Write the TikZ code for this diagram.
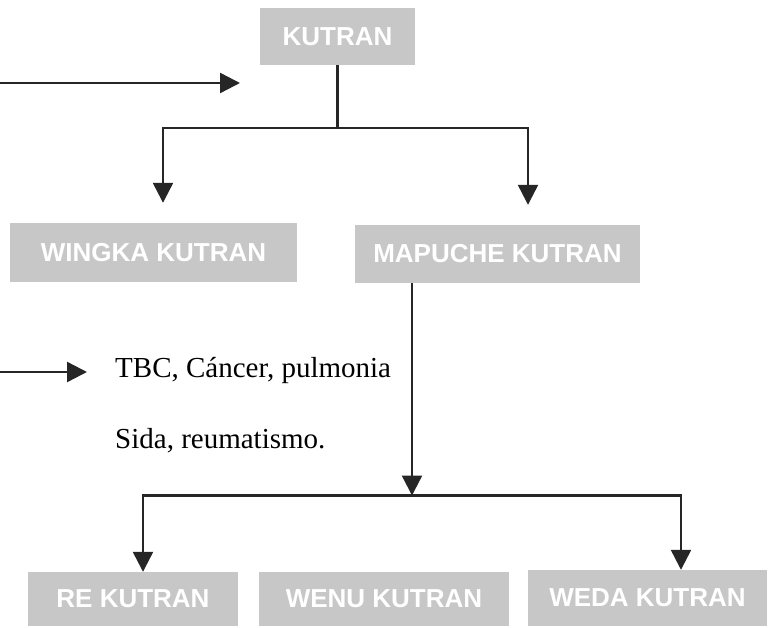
\documentclass[tikz,border=0pt]{standalone}
\usepackage{fontspec}
\setmainfont{Liberation Serif}
\newfontfamily\boxfont{Liberation Sans}
\usetikzlibrary{arrows.meta}
\begin{document}
\begin{tikzpicture}[x=1pt,y=-1pt,>={Triangle[length=20pt,width=20pt]},
	kbox/.style={fill=black!22,text=white,inner sep=0pt,font=\boxfont\bfseries\fontsize{26}{30}\selectfont},
	conn/.style={line width=2.4pt,black!85},
	enf/.style={anchor=base west,inner sep=0pt,font=\fontsize{29}{34}\selectfont}]
	\useasboundingbox (0,0) rectangle (768,628);
	% cajas
	\node[kbox,minimum width=155pt,minimum height=57pt](kutran) at (337.5,36.5){KUTRAN};
	\node[kbox,minimum width=287pt,minimum height=59pt](wingka) at (153.5,252.5){WINGKA KUTRAN};
	\node[kbox,minimum width=285pt,minimum height=58pt](mapuche) at (497.5,254){MAPUCHE KUTRAN};
	\node[kbox,minimum width=210pt,minimum height=54pt](re) at (133,599){RE KUTRAN};
	\node[kbox,minimum width=250pt,minimum height=54pt](wenu) at (384,599){WENU KUTRAN};
	\node[kbox,minimum width=239pt,minimum height=56pt](weda) at (647.5,598){WEDA KUTRAN};
	\node[enf](enf1) at (115,377){TBC, Cáncer, pulmonia};
	\node[enf](enf2) at (115,448){Sida, reumatismo.};
	% flechas
	\coordinate(top0) at (0,83);
	\coordinate(top1) at (240,83);
	\draw[conn,->](top0)--(top1);
	\coordinate(mid0) at (0,372);
	\coordinate(mid1) at (87,372);
	\draw[conn,->](mid0)--(mid1);
	\coordinate(fork1) at (337.5,128);
	\draw[conn](kutran)--(fork1);
	\draw[conn,->,shorten >=20pt](fork1)-|([xshift=9.5pt]wingka.north);
	\draw[conn,->,shorten >=20pt](fork1)-|([xshift=30.5pt]mapuche.north);
	\coordinate(fork2) at (412,495.5);
	\draw[conn,->]([xshift=-85.5pt]mapuche.south)--(fork2);
	\draw[conn,->](fork2)-|([xshift=10pt]re.north);
	\draw[conn,->](fork2)-|([xshift=33.5pt]weda.north);
\end{tikzpicture}
\end{document}
